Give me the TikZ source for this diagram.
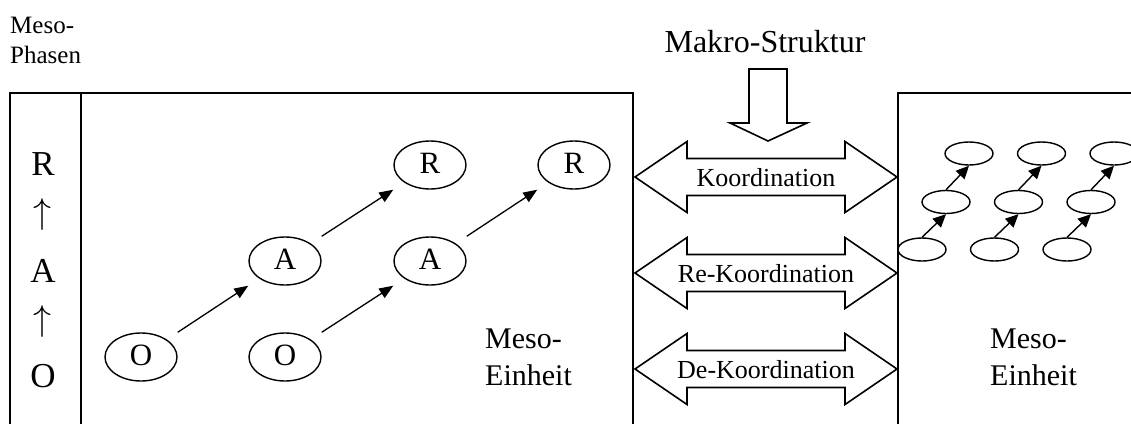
\documentclass[tikz,border=0pt]{standalone}
\usepackage{fontspec}
\usepackage{graphicx}
\setmainfont{Liberation Serif}
\usetikzlibrary{shapes.geometric,arrows.meta}
\tikzset{
  boxline/.style={line width=1.9pt, line cap=rect},
  bigell/.style={ellipse, draw, line width=1.4pt, minimum width=72pt, minimum height=48pt, inner sep=0pt,
     font=\fontsize{31}{35}\selectfont, text height=20.5pt, text depth=4pt},
  smallell/.style={ellipse, draw, line width=1.4pt, minimum width=48pt, minimum height=23pt, inner sep=0pt},
  flow/.style={line width=1.3pt, -{Triangle[length=14pt,width=11pt]}},
  smallflow/.style={line width=1.4pt, -{Triangle[length=13pt,width=12pt]}},
  hollow/.style={draw, line width=1.6pt, fill=white, line join=miter},
  lbl/.style={inner sep=0pt, anchor=base, font=\fontsize{26}{30}\selectfont},
  txt/.style={inner sep=0pt, anchor=base west, font=\fontsize{30}{35}\selectfont},
  col/.style={inner sep=0pt, anchor=base, font=\fontsize{35}{40}\selectfont},
  colarrow/.style={inner sep=0pt, anchor=center}
}
\newcommand{\colup}{\resizebox*{!}{32pt}{$\uparrow$}}
\begin{document}
\begin{tikzpicture}[x=1pt,y=-1pt]
\useasboundingbox[fill=white] (0,0) rectangle (1131,423);

% title texts
\node[inner sep=0pt, anchor=base west, font=\fontsize{25}{30}\selectfont] (mp1) at (10,33) {Meso-};
\node[inner sep=0pt, anchor=base west, font=\fontsize{25}{30}\selectfont] (mp2) at (10,63) {Phasen};
\node[inner sep=0pt, anchor=base, font=\fontsize{32}{36}\selectfont] (makro) at (765,52) {Makro-Struktur};

% boxes
\draw[boxline] (10,423) -- (10,93) -- (633,93) -- (633,423);
\draw[boxline] (81,93) -- (81,423);
\draw[boxline] (898,423) -- (898,93) -- (1131,93);

% phase column
\node[col] (cR) at (43,175) {R};
\node[colarrow] (cu1) at (43,214) {\colup};
\node[col] (cA) at (43,282) {A};
\node[colarrow] (cu2) at (43,321) {\colup};
\node[col] (cO) at (43,387) {O};

% ellipses left unit
\node[bigell] (O1) at (141,357) {O};
\node[bigell] (A1) at (285,261) {A};
\node[bigell] (R1) at (430,165) {R};
\node[bigell] (O2) at (285,357) {O};
\node[bigell] (A2) at (430,261) {A};
\node[bigell] (R2) at (574,165) {R};

\draw[flow] (O1.east |- O1.north) -- (A1.west |- A1.south);
\draw[flow] (A1.east |- A1.north) -- (R1.west |- R1.south);
\draw[flow] (O2.east |- O2.north) -- (A2.west |- A2.south);
\draw[flow] (A2.east |- A2.north) -- (R2.west |- R2.south);

\node[txt] (me1a) at (485,348) {Meso-};
\node[txt] (me1b) at (485,385) {Einheit};
\node[txt] (me2a) at (990,348) {Meso-};
\node[txt] (me2b) at (990,385) {Einheit};

% down arrow
\draw[hollow] (749,69) -- (787,69) -- (787,123) -- (807,123) -- (768,141) -- (730,123) -- (749,123) -- cycle;

% double arrows
\foreach \yc/\lab/\nm in {177/Koordination/k1, 273/Re-Koordination/k2, 369/De-Koordination/k3} {
  \draw[hollow] (635,\yc) -- (687,\yc-35.5) -- (687,\yc-18.5) -- (845,\yc-18.5) -- (845,\yc-35.5)
     -- (897,\yc) -- (845,\yc+35.5) -- (845,\yc+18.5) -- (687,\yc+18.5) -- (687,\yc+35.5) -- cycle;
  \node[lbl] (\nm) at (766,\yc+9) {\lab};
}

% right unit small ellipses
\foreach \i/\dx in {1/0, 2/72.5, 3/145} {
  \node[smallell] (b\i) at (922+\dx,249.5) {};
  \node[smallell] (m\i) at (946+\dx,202) {};
  \node[smallell] (t\i) at (969+\dx,153.5) {};
  \draw[smallflow] (b\i.north) -- (m\i.south);
  \draw[smallflow] (m\i.north) -- (t\i.south);
}
\end{tikzpicture}
\end{document}
